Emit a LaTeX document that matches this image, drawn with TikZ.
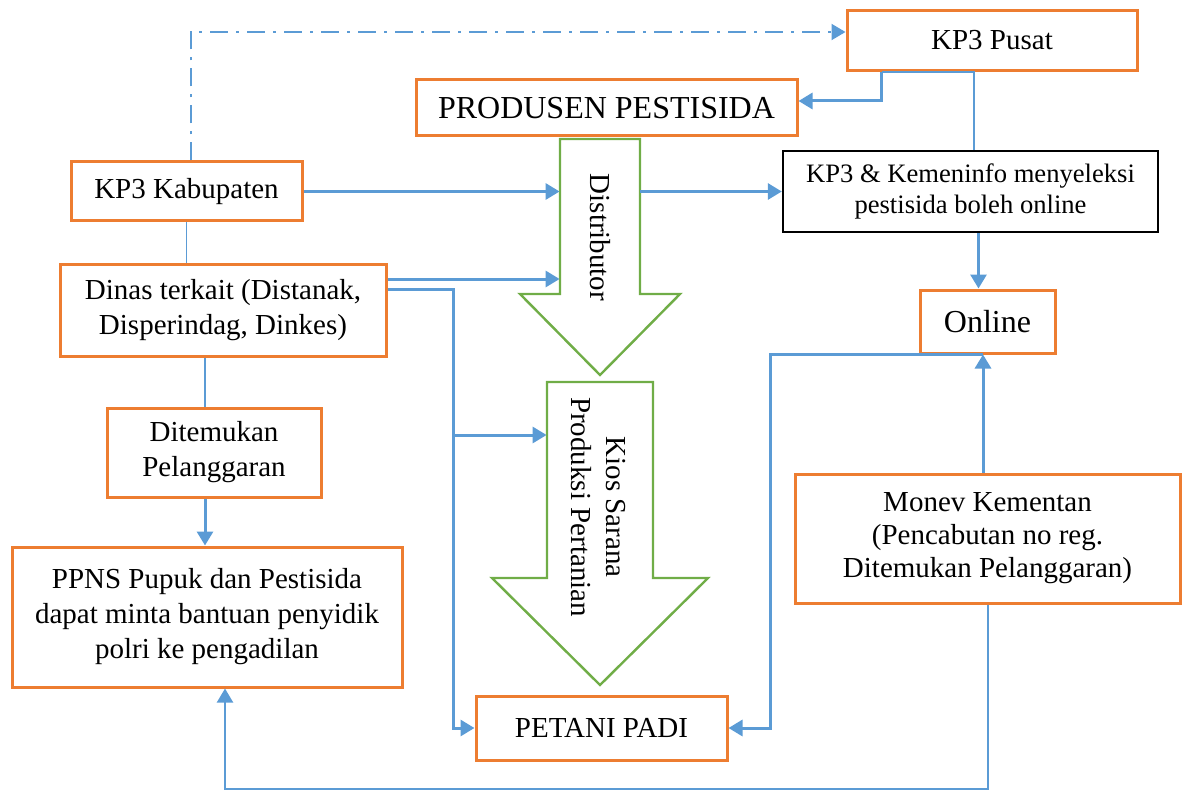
\documentclass[tikz,border=0pt]{standalone}
\usepackage{fontspec}
\setmainfont{Liberation Serif}
\usetikzlibrary{arrows.meta}
\definecolor{boxorange}{HTML}{ED7D31}
\definecolor{lineblue}{HTML}{5B9BD5}
\definecolor{arrowgreen}{HTML}{70AD47}
\begin{document}
\begin{tikzpicture}[x=0.5pt, y=-0.5pt, >={Triangle[length=7pt,width=8pt]},
  box/.style={draw=boxorange, line width=1.5pt, fill=white, align=center,
    inner sep=0pt, font=\fontsize{14.5}{17.5}\selectfont},
  conn/.style={draw=lineblue, line width=1.5pt, ->},
  link/.style={draw=lineblue, line width=0.8pt},
  shaft/.style={inner sep=0pt},
  bigarrow/.style={draw=arrowgreen, line width=1.2pt, fill=white}]
\useasboundingbox (0,0) rectangle (1187,791);
\def\largefnt{\fontsize{16}{19}\selectfont}
\def\boxfnt{\fontsize{14.5}{17.5}\selectfont}

% green flow arrows
\draw[bigarrow] (560,139) -- (640,139) -- (640,294) -- (680,294) -- (600,375)
  -- (520,294) -- (560,294) -- cycle;
\draw[bigarrow] (547,382) -- (653,382) -- (653,578) -- (708,578) -- (600,685)
  -- (492,578) -- (547,578) -- cycle;
\node[shaft, minimum width=40pt, minimum height=77.5pt] (dist) at (600,216.5) {};
\node[shaft, minimum width=53pt, minimum height=98pt] (kios) at (600,480) {};
\node[rotate=-90, font=\boxfnt] (distlabel) at (600,237.5) {Distributor};
\node[rotate=-90, align=center, font=\boxfnt] (kioslabel) at (598,507)
  {Kios Sarana\\Produksi Pertanian};

% boxes
\node[box, minimum width=145pt, minimum height=30pt] (pusat) at (992,40.5) {KP3 Pusat};
\node[box, minimum width=190.5pt, minimum height=28pt, font=\largefnt] (produsen)
  at (606.5,108) {PRODUSEN PESTISIDA};
\node[box, minimum width=115.5pt, minimum height=29.5pt] (kab) at (186.5,191.5) {KP3 Kabupaten};
\node[box, draw=black, line width=1.2pt, minimum width=187.5pt, minimum height=40.5pt,
  font=\fontsize{13.3}{15.5}\selectfont] (kemen) at (970.5,191.5)
  {KP3 \& Kemeninfo menyeleksi\\pestisida boleh online};
\node[box, minimum width=163pt, minimum height=46pt] (dinas) at (223,310)
  {Dinas terkait (Distanak,\\Disperindag, Dinkes)};
\node[box, minimum width=67.5pt, minimum height=31.5pt, font=\largefnt] (online)
  at (987.5,321.5) {Online};
\node[box, minimum width=107pt, minimum height=44.5pt] (temu) at (214,452.5)
  {Ditemukan\\Pelanggaran};
\node[box, minimum width=192.5pt, minimum height=64.5pt,
  font=\fontsize{14.5}{16.5}\selectfont] (monev) at (987.5,538.5)
  {Monev Kementan\\(Pencabutan no reg.\\Ditemukan Pelanggaran)};
\node[box, minimum width=195pt, minimum height=70pt] (ppns) at (207,617)
  {PPNS Pupuk dan Pestisida\\dapat minta bantuan penyidik\\polri ke pengadilan};
\node[box, minimum width=125.5pt, minimum height=32pt] (petani) at (601.5,728) {PETANI PADI};

\coordinate (bus) at (453,435);
\coordinate (low) at (225,789);

% connectors
\draw[link, line width=1pt, dash pattern=on 9pt off 4pt on 1.5pt off 4pt, ->]
  ([xshift=2pt]kab.north) |- ([yshift=4.25pt]pusat.west);
\draw[conn] ([xshift=18pt]pusat.south west) |- ([yshift=3.5pt]produsen.east);
\draw[link] ([xshift=18pt]pusat.south west) -- ([xshift=-9pt]pusat.south)
  -- ([xshift=-9pt]pusat.south |- kemen.north);
\draw[conn] (kab.east) -- (kab.east -| dist.west);
\draw[conn] (dist.east |- kemen.west) -- (kemen.west);
\draw[conn] ([xshift=4pt]kemen.south) -- ([xshift=4pt]kemen.south |- online.north);
\draw[link] (kab.south) -- (kab.south |- dinas.north);
\draw[conn] ([yshift=15.5pt]dinas.east) -- ([yshift=15.5pt]dinas.east -| dist.west);
\draw[conn] ([yshift=10.5pt]dinas.east) -| (bus) |- (petani.west);
\draw[conn] (bus) -- (bus -| kios.west);
\draw[link] ([xshift=-4.5pt]temu.north |- dinas.south) -- ([xshift=-4.5pt]temu.north);
\draw[conn] ([xshift=-4.5pt]temu.south) -- ([xshift=-4.5pt]temu.south |- ppns.north);
\draw[conn] ([xshift=-2.25pt]monev.north) -- ([xshift=-2.25pt]monev.north |- online.south);
\draw[conn] ([xshift=-2.25pt]online.south) -- ++(-213,0) |- (petani.east);
\draw[conn, line width=1pt] (monev.south) |- (low) -- (low |- ppns.south);
\end{tikzpicture}
\end{document}
